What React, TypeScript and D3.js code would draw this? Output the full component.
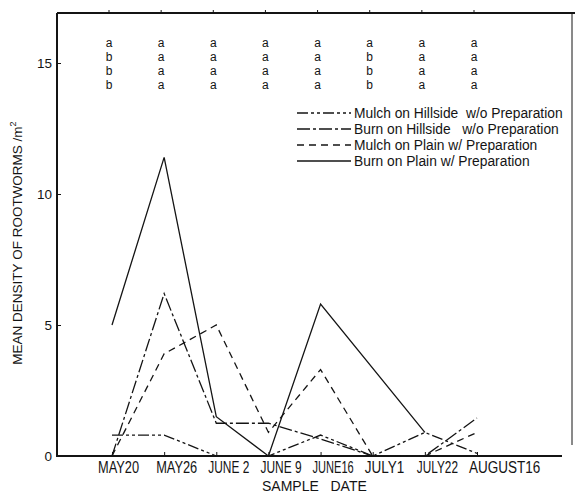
import React, { useEffect, useRef } from "react";
import * as d3 from "d3";

// sample dates along the bottom
const dates = ["MAY20", "MAY26", "JUNE 2", "JUNE 9", "JUNE16", "JULY1", "JULY22", "AUGUST16"];

// mean density per sample date (null = no point drawn)
const mulchHillside = [0.8, 0.8, 0, 0, 0.8, 0, 0.9, 0.1];
const burnHillside = [0, 6.2, 1.25, 1.25, 0.65, 0, 0, 1.45];
const mulchPlain = [0, 3.9, 5.0, 0.9, 3.3, 0, 0, 0.9];
const burnPlain = [5.0, 11.4, 1.5, 0, 5.8, null, 0.9, null];

const seriesNames = [
  "Mulch on Hillside  w/o Preparation",
  "Burn on Hillside   w/o Preparation",
  "Mulch on Plain w/ Preparation",
  "Burn on Plain w/ Preparation",
];

const yTicks = [0, 5, 10, 15];

// significance letters above each date
const letterRows = [
  ["a", "a", "a", "a", "a", "a", "a", "a"],
  ["b", "a", "a", "a", "a", "b", "a", "a"],
  ["b", "a", "a", "a", "a", "b", "a", "a"],
  ["b", "a", "a", "a", "a", "b", "a", "a"],
];

const W = 575;
const H = 493;

function App() {
  const svgRef = useRef<SVGSVGElement | null>(null);

  useEffect(() => {
    const svg = d3.select(svgRef.current);
    if (!svg.node()) return;
    svg.selectAll("*").remove();

    const ink = "#141414";
    const sans = "'Liberation Sans', Arial, sans-serif";

    const x = d3.scalePoint<string>().domain(dates).range([112, 477]);
    const y = d3.scaleLinear().domain([0, 15]).range([456, 63]);

    const left = 57;
    const top = 13;
    const right = 572;
    const bottom = y(0);

    svg.append("rect").attr("width", W).attr("height", H).attr("fill", "#fff");

    // frame
    svg.append("line").attr("x1", left).attr("x2", left).attr("y1", top).attr("y2", bottom + 1)
      .attr("stroke", ink).attr("stroke-width", 2);
    svg.append("line").attr("x1", left).attr("x2", W).attr("y1", top).attr("y2", top)
      .attr("stroke", ink).attr("stroke-width", 2);
    svg.append("line").attr("x1", right).attr("x2", right).attr("y1", top).attr("y2", 445)
      .attr("stroke", ink).attr("stroke-width", 1);
    svg.append("line").attr("x1", left - 1).attr("x2", 562).attr("y1", bottom).attr("y2", bottom)
      .attr("stroke", ink).attr("stroke-width", 2);

    // y axis
    const yAxis = svg.append("g").attr("transform", `translate(${left},0)`)
      .call(d3.axisLeft(y).tickValues(yTicks).tickSize(-4).tickPadding(5).tickFormat(d3.format("d")));
    yAxis.select(".domain").remove();
    yAxis.selectAll("line").attr("stroke", ink);
    yAxis.selectAll("text").attr("font-family", sans).attr("font-size", 13.5).attr("fill", ink);

    // x ticks
    const xAxis = svg.append("g").attr("transform", `translate(0,${bottom})`)
      .call(d3.axisBottom(x).tickSize(-4).tickFormat(() => ""));
    xAxis.select(".domain").remove();
    xAxis.selectAll("line").attr("stroke", ink);

    // little marks on top border
    svg.append("g").selectAll("line").data(dates).join("line")
      .attr("x1", (d) => x(d)! - 3).attr("x2", (d) => x(d)! - 3)
      .attr("y1", top).attr("y2", top - 3)
      .attr("stroke", ink);

    // x labels, typed one after another under their ticks (condensed with a scale)
    const step = x.step();
    const xLab = svg.append("g").selectAll<SVGTextElement, string>("text").data(dates).join("text")
      .attr("font-family", sans)
      .attr("font-size", 16.5)
      .attr("fill", ink)
      .style("white-space", "pre")
      .text((d) => d);
    let prevEnd = -Infinity;
    xLab.each(function (d, i) {
      const last = i === dates.length - 1;
      const nat = this.getComputedTextLength();
      const w = Math.min(nat * 0.82, last ? Infinity : step - 11);
      const start = i === 0 ? x(d)! - 14 : Math.max(prevEnd + 4, x(d)! - 8);
      d3.select(this).attr("transform", `translate(${start},${bottom + 17}) scale(${w / nat},1)`);
      prevEnd = start + w;
    });

    svg.append("text")
      .attr("x", 262).attr("y", 491)
      .attr("font-family", sans).attr("font-size", 14)
      .attr("fill", ink)
      .style("white-space", "pre")
      .text("SAMPLE   DATE");

    // y title
    const yt = svg.append("text")
      .attr("transform", `translate(22,243) rotate(-90)`)
      .attr("text-anchor", "middle")
      .attr("font-family", sans).attr("font-size", 13.5)
      .attr("fill", ink);
    yt.append("tspan").text("MEAN DENSITY OF ROOTWORMS /m");
    yt.append("tspan").attr("dy", -6).attr("font-size", 9).text("2");

    // letters
    letterRows.forEach((row, r) => {
      svg.append("g").selectAll("text").data(row).join("text")
        .attr("x", (_, i) => x(dates[i])! - 3)
        .attr("y", y(15) - 16 + r * 14)
        .attr("text-anchor", "middle")
        .attr("font-family", sans).attr("font-size", 12)
        .attr("fill", ink)
        .text((d) => d);
    });

    // series
    const allSeries = [mulchHillside, burnHillside, mulchPlain, burnPlain];
    const dashes = ["11,3,3,3,3,3", "13,3,3,3", "7,5", null];

    const line = d3.line<{ d: string; v: number }>()
      .x((p) => x(p.d)!)
      .y((p) => y(p.v));

    allSeries.forEach((vals, s) => {
      const pts = vals
        .map((v, i) => ({ d: dates[i], v }))
        .filter((p) => p.v !== null) as { d: string; v: number }[];
      svg.append("path")
        .datum(pts)
        .attr("fill", "none")
        .attr("stroke", ink)
        .attr("stroke-width", 1.3)
        .attr("stroke-dasharray", dashes[s])
        .attr("d", line);
    });

    // legend
    const legY = [113, 129, 145, 161];
    seriesNames.forEach((name, s) => {
      svg.append("line")
        .attr("x1", 297).attr("x2", 351)
        .attr("y1", legY[s]).attr("y2", legY[s])
        .attr("stroke", ink).attr("stroke-width", 1.3)
        .attr("stroke-dasharray", dashes[s]);
      svg.append("text")
        .attr("x", 354).attr("y", legY[s] + 4.5)
        .attr("font-family", sans).attr("font-size", 13.8)
        .attr("fill", ink)
        .style("white-space", "pre")
        .text(name);
    });
  }, []);

  return (
    <svg
      ref={svgRef}
      width={W}
      height={H}
      style={{ position: "absolute", left: 0, top: 0, display: "block" }}
    />
  );
}

export default App;
